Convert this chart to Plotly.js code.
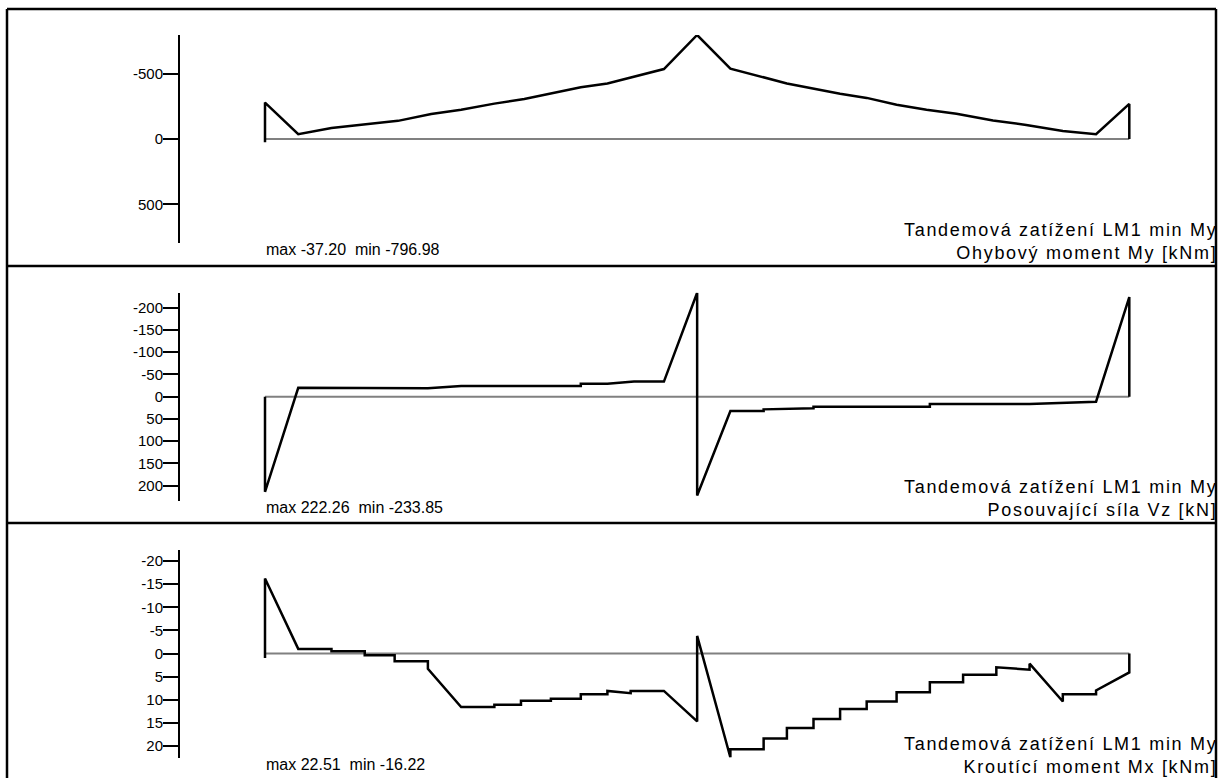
<!DOCTYPE html>
<html>
<head>
<meta charset="utf-8">
<script src="https://cdn.plot.ly/plotly-3.0.1.min.js"></script>
<style>html,body{margin:0;padding:0;background:#fff;}#chart{width:1223px;height:778px;}</style>
</head>
<body>
<div id="chart"></div>
<script>
// ---------- DATA ----------
const spanLength = 26; // m, beam length (x from 0 to 26)
const baseX = [0, 26];
const baseY = [0, 0];

// Panel 1: Ohybový moment My [kNm]
const myX = [0, 0, 1, 2, 4, 5, 5.9, 6.9, 7.8, 8.6, 9.5, 10.3, 11.2, 12, 13, 14, 15.7, 17.3, 18.1, 19, 19.9, 20.8, 21.9, 22.9, 24, 25, 26, 26];
const myY = [25, -279, -37.2, -85, -139, -191, -224, -271, -307, -348, -397, -426, -482, -536, -796.98, -539, -426, -346, -315, -263, -225, -194, -142, -108, -62, -37.2, -269, 0];
const myTicks = [-500, 0, 500];
const myTickText = ['-500', '0', '500'];
const myExtreme = 796.98;

// Panel 2: Posouvající síla Vz [kN]
const vzX = [0, 0, 1, 4.9, 5.9, 9.5, 9.5, 10.3, 11.1, 12, 13, 13, 14, 15, 15, 16.5, 16.5, 20, 20, 23, 25, 26, 26];
const vzY = [0, 214, -20, -19, -24, -24, -29, -29, -34, -34, -233.85, 222.26, 32, 32, 28.5, 26, 22.6, 22.6, 16.5, 16.5, 11.3, -224, 0];
const vzTicks = [-200, -150, -100, -50, 0, 50, 100, 150, 200];
const vzTickText = ['-200', '-150', '-100', '-50', '0', '50', '100', '150', '200'];
const vzExtreme = 233.85;

// Panel 3: Kroutící moment Mx [kNm]
const mxX = [0, 0, 1, 2, 2, 3, 3, 3.9, 3.9, 4.9, 4.9, 5.9, 6.9, 6.9, 7.7, 7.7, 8.6, 8.6, 9.5, 9.5, 10.3, 10.3, 11, 11, 12, 13, 13, 14, 14, 15, 15, 15.7, 15.7, 16.5, 16.5, 17.3, 17.3, 18.1, 18.1, 19, 19, 20, 20, 21, 21, 22, 22, 23, 23, 24, 24, 25, 25, 26, 26];
const mxY = [1, -16.22, -1.0, -1.0, -0.5, -0.5, 0.4, 0.4, 1.7, 1.7, 3.3, 11.6, 11.6, 11.1, 11.1, 10.2, 10.2, 9.8, 9.8, 8.8, 8.8, 8.1, 8.6, 8.1, 8.1, 14.7, -3.8, 22.51, 20.7, 20.7, 18.4, 18.4, 16.1, 16.1, 14.2, 14.2, 12.0, 12.0, 10.4, 10.4, 8.4, 8.4, 6.2, 6.2, 4.6, 4.6, 3.0, 3.5, 2.2, 10.4, 8.8, 8.8, 8.0, 4.1, 0];
const mxTicks = [-20, -15, -10, -5, 0, 5, 10, 15, 20];
const mxTickText = ['-20', '-15', '-10', '-5', '0', '5', '10', '15', '20'];
const mxExtreme = 22.51;

// Texts
const caseLabel = 'Tandemová zatížení LM1 min My';
const quantityLabels = ['Ohybový moment My [kNm]', 'Posouvající síla Vz [kN]', 'Kroutící moment Mx [kNm]'];
const extremeLabels = ['max -37.20  min -796.98', 'max 222.26  min -233.85', 'max 22.51  min -16.22'];

// ---------- LAYOUT HELPERS ----------
const W = 1223, H = 778;
const FONT = 'Liberation Sans, Arial, sans-serif';
const px = x => x / W;
const py = y => 1 - y / H;
const x0px = 265, x1px = 1129.3;
const unit = (x1px - x0px) / spanLength;
const xRange = [-x0px / unit, spanLength + (W - x1px) / unit];
const axisPos = 179;
const panelTop = [9, 266, 523];
const zeroPx = [139, 396.7, 653.5];
const halfPx = 104;
const spaced = t => '<span style="letter-spacing:1.7px">' + t + '</span>';

const curves = [[myX, myY], [vzX, vzY], [mxX, mxY]];
const tickSets = [[myTicks, myTickText, myExtreme], [vzTicks, vzTickText, vzExtreme], [mxTicks, mxTickText, mxExtreme]];

const traces = [];
const layout = {
  width: W, height: H, autosize: false,
  margin: {l: 0, r: 0, t: 0, b: 0},
  paper_bgcolor: '#fff', plot_bgcolor: 'rgba(0,0,0,0)',
  showlegend: false,
  font: {family: FONT, color: '#000'},
  xaxis: {range: xRange, visible: false, domain: [0, 1], fixedrange: true},
  shapes: [], annotations: []
};

for (let i = 0; i < 3; i++) {
  const ya = i === 0 ? 'y' : 'y' + (i + 1);
  const yk = i === 0 ? 'yaxis' : 'yaxis' + (i + 1);
  traces.push({x: baseX, y: baseY, xaxis: 'x', yaxis: ya, mode: 'lines', line: {color: '#808080', width: 2}, hoverinfo: 'skip'});
  traces.push({x: curves[i][0], y: curves[i][1], xaxis: 'x', yaxis: ya, mode: 'lines', line: {color: '#000', width: 2.5}, hoverinfo: 'skip'});
  const [tv, tt, M] = tickSets[i];
  layout[yk] = {
    domain: [py(zeroPx[i] + halfPx), py(zeroPx[i] - halfPx)],
    range: [M, -M],
    anchor: 'free', position: px(axisPos),
    showline: true, linecolor: '#000', linewidth: 2,
    ticks: 'outside', ticklen: 15, tickwidth: 2, tickcolor: '#000',
    ticklabelstandoff: -3,
    tickvals: tv, ticktext: tt,
    tickfont: {family: FONT, size: 15, color: '#000'},
    showgrid: false, zeroline: false, fixedrange: true
  };
  const top = panelTop[i];
  layout.annotations.push({xref: 'paper', yref: 'paper', x: px(264), y: py(top + 241), xanchor: 'left', yanchor: 'middle', text: extremeLabels[i], showarrow: false, font: {family: FONT, size: 16, color: '#000'}});
  layout.annotations.push({xref: 'paper', yref: 'paper', x: px(1219), y: py(top + 232), xanchor: 'right', yanchor: 'middle', align: 'right', text: spaced(caseLabel) + '<br>' + spaced(quantityLabels[i]), showarrow: false, font: {family: FONT, size: 18, color: '#000'}});
}

// Frame
const frameLine = {color: '#000', width: 2.5};
const L = px(7), R = px(1216);
layout.shapes.push({type: 'line', xref: 'paper', yref: 'paper', x0: L, x1: R, y0: py(9), y1: py(9), line: frameLine});
layout.shapes.push({type: 'line', xref: 'paper', yref: 'paper', x0: L, x1: R, y0: py(266), y1: py(266), line: frameLine});
layout.shapes.push({type: 'line', xref: 'paper', yref: 'paper', x0: L, x1: R, y0: py(523), y1: py(523), line: frameLine});
layout.shapes.push({type: 'line', xref: 'paper', yref: 'paper', x0: L, x1: L, y0: py(9), y1: py(790), line: frameLine});
layout.shapes.push({type: 'line', xref: 'paper', yref: 'paper', x0: R, x1: R, y0: py(9), y1: py(790), line: frameLine});

Plotly.newPlot('chart', traces, layout, {staticPlot: true, displayModeBar: false});
</script>
</body>
</html>
